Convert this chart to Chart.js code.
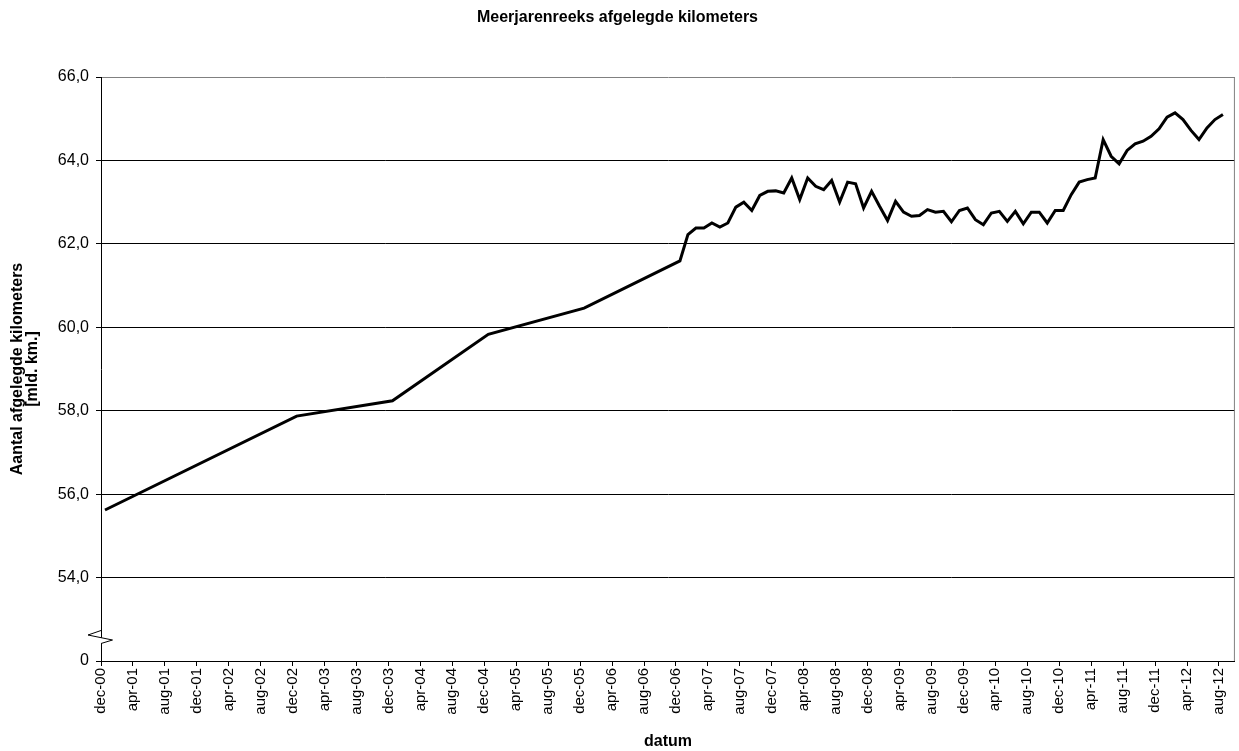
<!DOCTYPE html>
<html><head><meta charset="utf-8">
<script src="https://cdn.jsdelivr.net/npm/chart.js@4/dist/chart.umd.min.js"></script>
<style>html,body{margin:0;padding:0;background:#fff}canvas{display:block}</style>
</head><body>
<canvas id="c" width="1239" height="751"></canvas>
<script>
// ---- data ----
const yearlyDates = ['2000-12','2002-12','2003-12','2004-12','2005-12','2006-12'];
const yearlyValues = [55.62, 57.87, 58.24, 59.83, 60.46, 61.59];
const monthlyStart = '2007-01';
const monthlyValues = [
  62.22, 62.38, 62.38, 62.50, 62.40, 62.50, 62.88, 63.00, 62.80, 63.16, 63.26, 63.27, // 2007
  63.22, 63.58, 63.06, 63.58, 63.38, 63.30, 63.52, 63.00, 63.48, 63.44, 62.86, 63.26, // 2008
  62.90, 62.56, 63.02, 62.76, 62.66, 62.68, 62.82, 62.76, 62.78, 62.53, 62.80, 62.86, // 2009
  62.58, 62.46, 62.74, 62.78, 62.54, 62.78, 62.48, 62.76, 62.76, 62.50, 62.80, 62.80, // 2010
  63.18, 63.48, 63.54, 63.58, 64.50, 64.10, 63.92, 64.24, 64.40, 64.46, 64.58, 64.76, // 2011
  65.04, 65.14, 64.98, 64.72, 64.50, 64.78, 64.98, 65.10                             // 2012
];
const xTickLabels = ['dec-00','apr-01','aug-01','dec-01','apr-02','aug-02','dec-02','apr-03','aug-03',
  'dec-03','apr-04','aug-04','dec-04','apr-05','aug-05','dec-05','apr-06','aug-06','dec-06','apr-07',
  'aug-07','dec-07','apr-08','aug-08','dec-08','apr-09','aug-09','dec-09','apr-10','aug-10','dec-10',
  'apr-11','aug-11','dec-11','apr-12','aug-12'];
const yTickValues = [52, 54, 56, 58, 60, 62, 64, 66];
const yTickLabels = ['0', '54,0', '56,0', '58,0', '60,0', '62,0', '64,0', '66,0'];
const chartTitle = 'Meerjarenreeks afgelegde kilometers';
const yTitle = ['Aantal afgelegde kilometers', '[mld. km.]'];
const xTitle = 'datum';

// ---- helpers: month index counted from dec-2000, point in middle of month ----
function monthIndex(s){ const [y,m] = s.split('-').map(Number); return (y-2000)*12 + (m-12); }
const points = [];
yearlyDates.forEach((d,i)=>points.push({x: monthIndex(d)+0.5, y: yearlyValues[i]}));
const m0 = monthIndex(monthlyStart);
monthlyValues.forEach((v,i)=>points.push({x: m0+i+0.5, y: v}));

const FONT = "'Liberation Sans', Arial, sans-serif";
Chart.defaults.color = '#000';
Chart.defaults.font.family = FONT;

const framePlugin = {
  id: 'frame',
  beforeDatasetsDraw(chart){
    const {ctx, chartArea: a} = chart;
    ctx.save();
    ctx.strokeStyle = '#808080'; ctx.lineWidth = 1;
    ctx.beginPath(); ctx.moveTo(a.right-0.5, a.top); ctx.lineTo(a.right-0.5, a.bottom); ctx.stroke();
    ctx.restore();
  },
  afterDatasetsDraw(chart){
    const {ctx, chartArea: a} = chart;
    const ys = chart.scales.y;
    const x0 = a.left, yb = ys.getPixelForValue(52);
    ctx.save();
    ctx.beginPath();
    ctx.moveTo(x0, yb-30.5);
    ctx.lineTo(x0-13, yb-26);
    ctx.lineTo(x0+11.5, yb-21);
    ctx.lineTo(x0, yb-17.5);
    ctx.closePath();
    ctx.fillStyle = '#fff'; ctx.fill();
    ctx.beginPath();
    ctx.moveTo(x0, yb-30.5);
    ctx.lineTo(x0-13, yb-26);
    ctx.lineTo(x0+11.5, yb-21);
    ctx.lineTo(x0, yb-17.5);
    ctx.strokeStyle = '#000'; ctx.lineWidth = 1; ctx.stroke();
    ctx.restore();
  }
};

new Chart(document.getElementById('c'), {
  type: 'line',
  data: { datasets: [{ data: points, borderColor: '#000', borderWidth: 3, pointRadius: 0, tension: 0, fill: false }] },
  options: {
    responsive: false, animation: false,
    layout: { padding: { left: 0, right: 4, top: 0, bottom: 0 } },
    plugins: {
      legend: { display: false }, tooltip: { enabled: false },
      title: { display: true, text: chartTitle, color: '#000',
        font: { family: FONT, size: 16, weight: 'bold', lineHeight: 1.2 }, padding: { top: 8.4, bottom: 49.4 } }
    },
    scales: {
      x: {
        type: 'linear', min: 0, max: 142,
        afterBuildTicks: s => { s.ticks = xTickLabels.map((l,i)=>({value: i*4})); },
        afterFit: s => { s.height = 90; },
        ticks: { autoSkip: false, minRotation: 90, maxRotation: 90, padding: 2,
          font: { family: FONT, size: 15 }, color: '#000',
          callback: (v,i) => xTickLabels[i] },
        grid: { drawOnChartArea: false, drawTicks: true, tickLength: 5, tickColor: '#000' },
        border: { color: '#000', width: 1 },
        title: { display: true, text: xTitle, font: { family: FONT, size: 16, weight: 'bold', lineHeight: 1.2 },
          color: '#000', padding: { top: 0, bottom: 0 } }
      },
      y: {
        type: 'linear', min: 52, max: 66,
        afterBuildTicks: s => { s.ticks = yTickValues.map(v=>({value: v})); },
        afterFit: s => { s.width = 101; },
        ticks: { padding: 7, font: { family: FONT, size: 16 }, color: '#000',
          callback: (v,i) => yTickLabels[i] },
        grid: { drawTicks: true, tickLength: 5, tickColor: '#000',
          color: c => (c.tick && c.tick.value === 66) ? '#808080' : '#000', lineWidth: 1 },
        border: { color: '#000', width: 1 },
        title: { display: true, text: yTitle, font: { family: FONT, size: 16, weight: 'bold', lineHeight: 0.95 },
          color: '#000', padding: { top: 10, bottom: 0 } }
      }
    }
  },
  plugins: [framePlugin]
});
</script>
</body></html>
